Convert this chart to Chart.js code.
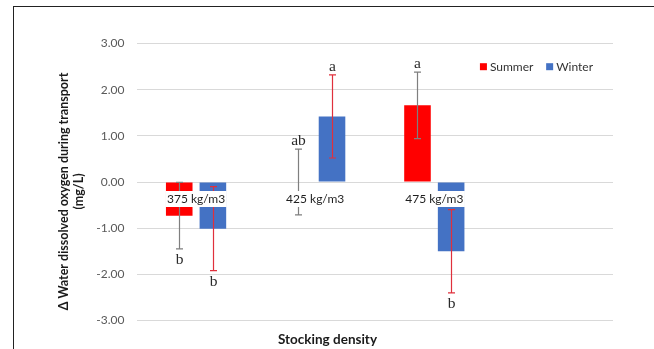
<!DOCTYPE html>
<html>
<head>
<meta charset="utf-8">
<script src="https://cdn.jsdelivr.net/npm/chart.js@4.4.1/dist/chart.umd.min.js"></script>
<style>
  html, body { margin: 0; padding: 0; background: #fff; }
  #wrap { position: relative; width: 654px; height: 349px; overflow: hidden; background: #fff; }
  #frame { position: absolute; left: 13px; top: 6px; width: 700px; height: 400px;
           border-left: 1px solid #222; border-top: 1px solid #222; }
  canvas { position: absolute; left: 0; top: 0; }
</style>
</head>
<body>
<div id="wrap">
  <div id="frame"></div>
  <canvas id="chart" width="654" height="349"></canvas>
</div>
<script>
// Stocking densities (the fourth slot is left empty, as in the original sheet)
const categories = ['375 kg/m3', '425 kg/m3', '475 kg/m3', ''];

// Mean change in dissolved oxygen (mg/L) and its error, per season
const summerMean = [-0.73, 0.00, 1.66, null];
const summerErr  = [0.72, 0.71, 0.72, null];
const winterMean = [-1.01, 1.42, -1.50, null];
const winterErr  = [0.91, 0.90, 0.90, null];

// Significance letters above / below each error bar
const summerLetters = ['b', 'ab', 'a', ''];
const winterLetters = ['b', 'a', 'b', ''];

// Value axis ticks
const yTicks = [-3, -2, -1, 0, 1, 2, 3];

const yTitle = ['\u0394 Water dissolved oxygen during transport', '(mg/L)'];
const xTitle = 'Stocking density';

const SANS = 'Lato, "Open Sans", sans-serif';
const SERIF = '"Liberation Serif", "DejaVu Serif", serif';

const series = [
  { label: 'Summer', mean: summerMean, err: summerErr, letters: summerLetters,
    fill: '#ff0000', errColor: '#7f7f7f' },
  { label: 'Winter', mean: winterMean, err: winterErr, letters: winterLetters,
    fill: '#4472c4', errColor: '#e0303c' }
];

// Error bars, letters, axis labels at zero, legend and titles
const decorations = {
  id: 'decorations',
  afterDatasetsDraw(chart) {
    const ctx = chart.ctx;
    const xs = chart.scales.x, ys = chart.scales.y;
    const area = chart.chartArea;
    ctx.save();

    // error bars + letters
    series.forEach((s, di) => {
      const meta = chart.getDatasetMeta(di);
      meta.data.forEach((bar, i) => {
        const m = s.mean[i], e = s.err[i];
        if (m === null || e === null) return;
        const cx = Math.round(bar.x) + 0.5;
        const yTop = ys.getPixelForValue(m + e);
        const yBot = ys.getPixelForValue(m - e);
        ctx.strokeStyle = s.errColor;
        ctx.lineWidth = 1.2;
        ctx.beginPath();
        ctx.moveTo(cx, yTop); ctx.lineTo(cx, yBot);
        ctx.moveTo(cx - 3.5, yTop); ctx.lineTo(cx + 3.5, yTop);
        ctx.moveTo(cx - 3.5, yBot); ctx.lineTo(cx + 3.5, yBot);
        ctx.stroke();

        const letter = s.letters[i];
        if (letter) {
          ctx.fillStyle = '#2a2a2a';
          ctx.font = '15.5px ' + SERIF;
          ctx.textAlign = 'center';
          ctx.textBaseline = 'middle';
          if (m >= 0) ctx.fillText(letter, cx, yTop - 8);
          else ctx.fillText(letter, cx, yBot + 11);
        }
      });
    });

    // category labels sitting on the zero line, with white backing
    ctx.font = '12px ' + SANS;
    ctx.textAlign = 'center';
    ctx.textBaseline = 'middle';
    const y0 = ys.getPixelForValue(0);
    categories.forEach((c, i) => {
      if (!c) return;
      const cx = xs.getPixelForValue(i);
      const cy = y0 + 17;
      const w = ctx.measureText(c).width;
      ctx.fillStyle = '#ffffff';
      ctx.fillRect(cx - w / 2 - 1.5, cy - 8, w + 3, 16);
      ctx.fillStyle = '#1f1f1f';
      ctx.fillText(c, cx, cy);
    });

    // legend, right-aligned inside the plot
    ctx.font = '12px ' + SANS;
    ctx.textBaseline = 'middle';
    ctx.textAlign = 'left';
    const ly = area.top + 23.2;
    let right = area.right - 20;
    for (let k = series.length - 1; k >= 0; k--) {
      const s = series[k];
      const w = ctx.measureText(s.label).width;
      const tx = right - w;
      ctx.fillStyle = '#333333';
      ctx.fillText(s.label, tx, ly);
      ctx.fillStyle = s.fill;
      ctx.fillRect(tx - 10, ly - 3.5, 7, 7);
      right = tx - 10 - 12.7;
    }

    // value axis title (two lines, rotated)
    ctx.fillStyle = '#1a1a1a';
    ctx.font = 'bold 12.5px ' + SANS;
    ctx.textAlign = 'center';
    ctx.textBaseline = 'middle';
    ctx.save();
    ctx.translate(64, 191.5);
    ctx.rotate(-Math.PI / 2);
    yTitle.forEach((line, k) => ctx.fillText(line, 0, k * 15));
    ctx.restore();

    // category axis title
    ctx.font = 'bold 13.5px ' + SANS;
    ctx.fillText(xTitle, 327.5, 340);

    ctx.restore();
  }
};

new Chart(document.getElementById('chart'), {
  type: 'bar',
  data: {
    labels: categories,
    datasets: series.map(s => ({
      label: s.label,
      data: s.mean,
      backgroundColor: s.fill,
      borderWidth: 0,
      categoryPercentage: 0.565,
      barPercentage: 0.79
    }))
  },
  options: {
    responsive: false,
    animation: false,
    devicePixelRatio: 1,
    layout: { padding: { left: 0, top: 43.5, right: 41, bottom: 28.5 } },
    plugins: {
      legend: { display: false },
      tooltip: { enabled: false },
      title: { display: false }
    },
    scales: {
      x: {
        type: 'category',
        offset: true,
        grid: { display: false, drawTicks: false },
        border: { display: false },
        ticks: { display: false },
        afterFit: s => { s.height = 0; }
      },
      y: {
        min: -3,
        max: 3,
        afterBuildTicks: s => { s.ticks = yTicks.map(v => ({ value: v })); },
        ticks: {
          callback: v => Number(v).toFixed(2),
          color: '#595959',
          font: { family: SANS, size: 12 },
          padding: 12
        },
        grid: { color: '#d9d9d9', lineWidth: 1, drawTicks: false },
        border: { display: false },
        afterFit: s => { s.width = 136.5; }
      }
    }
  },
  plugins: [decorations]
});
</script>
</body>
</html>
